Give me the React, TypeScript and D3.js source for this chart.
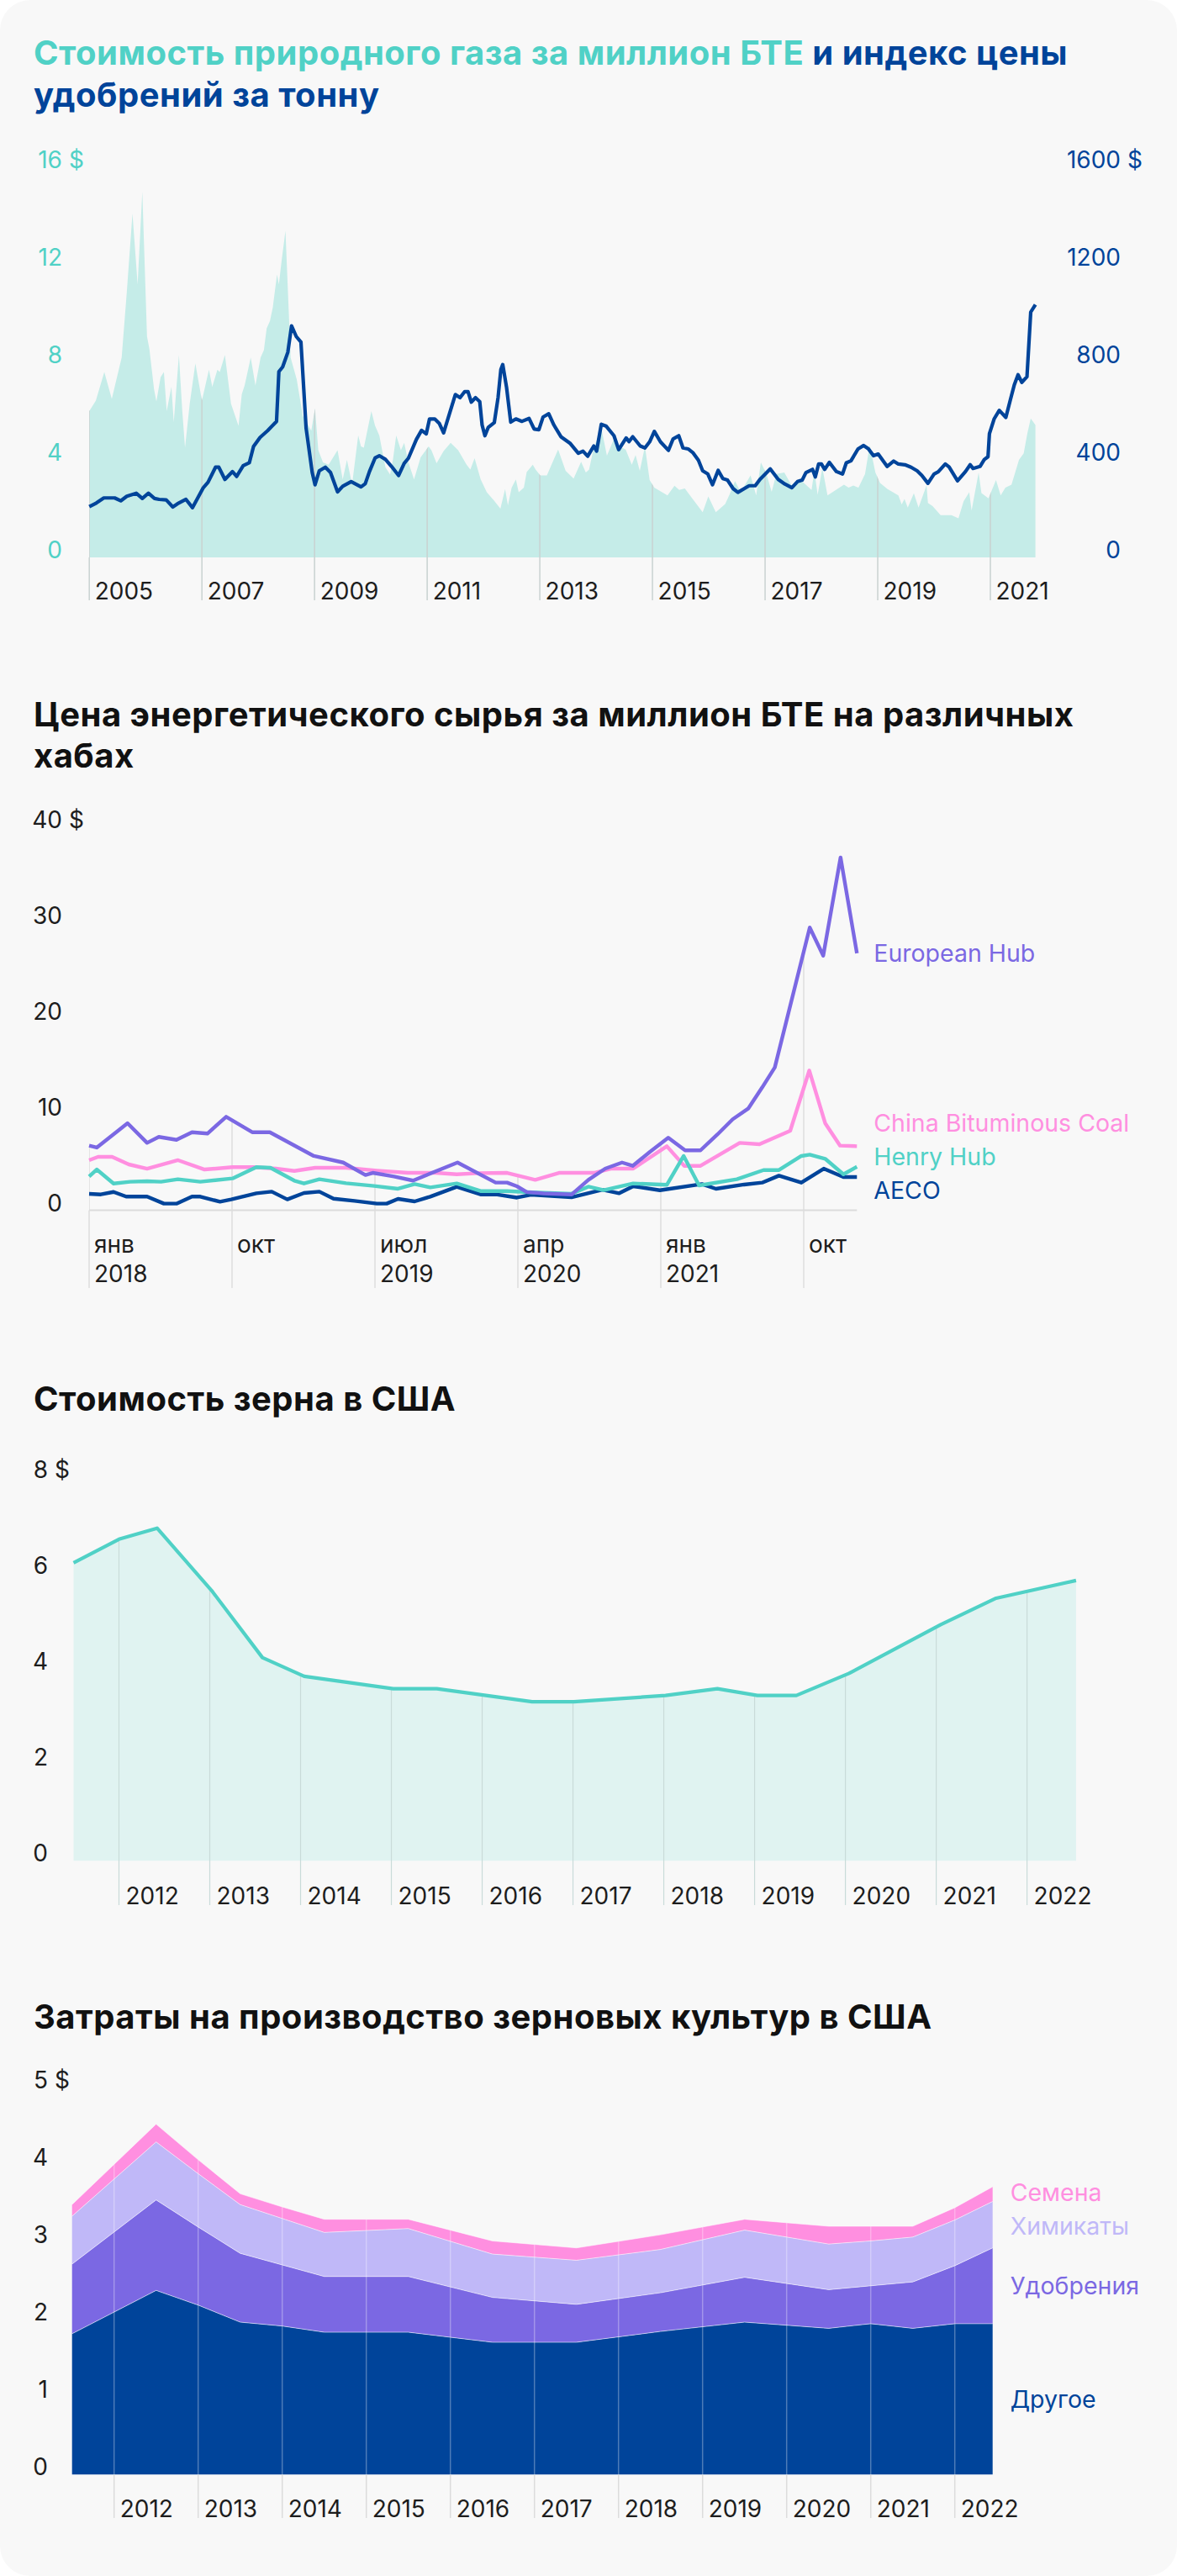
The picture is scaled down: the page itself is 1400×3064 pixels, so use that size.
import React from 'react';
import * as d3 from 'd3';

const FONT = "Inter, Roboto, 'Noto Sans', sans-serif";
const TEAL = '#50d1c6';
const BLUE = '#00449a';
const PURPLE = '#7b68e3';
const PINK = '#ff8fe0';
const LAVENDER = '#c0b8f8';
const TEXT = '#1d1d1d';

// ---------- Chart 1: gas price ($/MMBtu) and fertilizer index ($/t); x = months since Jan 2005
const gasMonth = [0, 1.4, 3.2, 4.8, 6.9, 8.0, 9.2, 10.3, 11.3, 12.3, 12.8, 13.8, 14.3, 15.2, 15.9, 16.5, 17.5, 18.0, 19.1, 19.8, 20.4, 21.4, 22.6, 24.0, 25.5, 26.2, 27.3, 27.8, 28.9, 30.2, 31.8, 32.5, 33.1, 34.4, 35.4, 36.5, 37.2, 37.8, 38.5, 39.1, 40.0, 40.4, 41.0, 41.8, 42.9, 44.2, 45.5, 47.3, 48.1, 48.8, 49.8, 51.0, 52.9, 54.0, 54.9, 56.0, 57.3, 57.9, 58.5, 60.1, 60.9, 61.8, 63.1, 64.1, 64.7, 65.4, 66.4, 67.1, 68.0, 69.2, 70.6, 72.3, 72.9, 74.0, 75.5, 77.0, 78.6, 80.4, 81.2, 82.1, 83.4, 84.7, 86.3, 87.6, 88.6, 89.2, 90.0, 90.9, 91.5, 92.6, 93.2, 94.5, 95.1, 96.1, 97.5, 98.7, 99.9, 101.5, 103.2, 104.8, 105.8, 106.5, 107.5, 109.1, 110.3, 111.8, 112.5, 114.3, 115.6, 116.4, 117.3, 118.4, 119.4, 120.4, 123.2, 124.7, 125.7, 126.9, 128.7, 130.7, 131.9, 133.5, 135.5, 136.4, 137.6, 138.8, 140.9, 142.1, 143.1, 144.3, 145.4, 146.4, 148.1, 149.9, 151.6, 153.9, 154.5, 155.2, 156.2, 157.3, 160.8, 161.8, 162.8, 163.9, 165.3, 166.3, 167.5, 168.5, 170.1, 172.4, 173.1, 173.7, 174.4, 175.7, 176.7, 178.4, 178.7, 179.7, 181.4, 183.7, 185.2, 186.3, 187.5, 188.0, 189.5, 190.1, 191.6, 193.2, 194.2, 195.2, 196.5, 198.1, 199.1, 199.9, 200.6, 201.6];
const gasPrice = [6.0, 6.43, 7.6, 6.5, 8.2, 10.9, 14.1, 11.2, 15.0, 9.06, 8.56, 6.9, 6.4, 7.4, 7.6, 6.0, 7.0, 5.55, 8.3, 6.05, 4.5, 6.3, 7.96, 6.43, 7.7, 7.0, 7.7, 7.6, 8.3, 6.3, 5.4, 6.7, 7.05, 8.2, 7.05, 8.2, 8.5, 9.4, 9.7, 10.25, 11.6, 11.2, 12.2, 13.4, 8.2, 7.3, 5.8, 5.2, 6.1, 4.4, 3.9, 3.8, 4.4, 3.2, 4.0, 3.0, 5.0, 4.55, 4.5, 6.0, 5.4, 5.0, 3.7, 3.4, 4.0, 5.0, 4.4, 4.7, 3.9, 3.2, 4.1, 4.55, 4.4, 3.86, 4.36, 4.7, 4.4, 3.8, 3.6, 4.07, 3.2, 2.67, 2.32, 2.0, 2.8, 2.14, 2.86, 3.2, 2.67, 2.86, 3.5, 3.8, 3.6, 3.36, 3.36, 3.9, 4.42, 3.55, 3.23, 3.92, 3.48, 3.6, 4.5, 5.3, 4.17, 4.86, 4.6, 4.42, 3.8, 4.2, 3.55, 4.55, 3.17, 2.86, 2.54, 2.94, 2.77, 2.83, 2.36, 1.85, 2.5, 1.85, 2.19, 2.57, 3.13, 2.67, 3.36, 2.54, 3.9, 3.42, 2.69, 3.42, 3.48, 2.86, 3.17, 2.77, 3.55, 2.57, 3.67, 2.54, 2.98, 2.86, 2.95, 2.86, 3.42, 4.6, 3.48, 3.05, 2.8, 2.54, 2.17, 2.4, 2.04, 2.63, 2.04, 2.96, 2.23, 2.1, 1.73, 1.73, 1.6, 2.3, 2.67, 1.92, 3.48, 2.64, 2.42, 3.17, 2.54, 2.86, 2.98, 4.0, 4.27, 5.1, 5.7, 5.43];
const fertMonth = [0, 1.5, 3.1, 5.4, 6.7, 8.0, 10.0, 11.3, 12.6, 13.9, 14.9, 16.4, 17.8, 18.8, 20.6, 22.0, 24.3, 25.3, 26.9, 27.6, 28.9, 30.5, 31.4, 32.8, 34.1, 35.0, 36.4, 38.0, 39.9, 40.4, 41.2, 42.3, 43.1, 44.1, 45.1, 46.2, 47.5, 48.1, 49.0, 50.3, 51.4, 52.9, 54.0, 55.8, 57.9, 58.8, 59.7, 60.9, 61.8, 63.1, 64.4, 65.9, 67.1, 68.0, 69.7, 70.8, 71.8, 72.5, 73.6, 74.6, 75.5, 76.8, 78.0, 79.0, 80.0, 80.7, 81.4, 82.3, 83.2, 83.7, 84.3, 85.0, 86.3, 87.1, 87.7, 88.1, 88.9, 89.8, 90.9, 92.2, 93.7, 94.8, 95.8, 96.7, 97.9, 99.0, 100.5, 102.5, 104.2, 105.2, 106.2, 107.5, 108.1, 109.1, 110.1, 111.8, 112.8, 114.4, 115.0, 115.8, 117.4, 118.4, 119.4, 120.4, 121.7, 123.4, 124.4, 125.6, 126.5, 127.6, 128.6, 129.8, 130.7, 131.8, 132.8, 134.0, 135.0, 136.0, 137.2, 138.2, 140.6, 141.9, 142.9, 145.1, 146.8, 148.2, 149.7, 150.9, 151.9, 152.7, 154.1, 154.7, 155.4, 156.0, 156.7, 157.7, 159.2, 160.5, 161.3, 162.3, 163.8, 165.0, 166.0, 167.1, 168.1, 170.0, 171.4, 172.4, 173.8, 175.1, 176.4, 177.4, 178.7, 180.0, 180.9, 182.4, 183.2, 185.0, 186.7, 187.7, 188.3, 189.8, 190.7, 191.5, 191.8, 192.8, 193.9, 195.3, 196.3, 197.1, 197.9, 198.7, 199.8, 200.6, 201.6];
const fertIndex = [208, 223, 244, 244, 232, 251, 263, 242, 263, 242, 238, 236, 207, 220, 238, 204, 286, 308, 370, 370, 320, 352, 332, 376, 388, 455, 492, 520, 558, 762, 781, 841, 950, 906, 883, 530, 348, 298, 355, 370, 348, 269, 292, 311, 289, 302, 352, 408, 417, 402, 373, 336, 386, 407, 484, 521, 507, 568, 568, 549, 511, 593, 668, 655, 680, 680, 637, 655, 639, 543, 499, 533, 553, 655, 771, 791, 699, 555, 568, 558, 570, 526, 524, 576, 589, 543, 495, 467, 427, 436, 415, 457, 436, 546, 539, 499, 442, 490, 475, 495, 457, 449, 474, 517, 474, 439, 486, 499, 449, 445, 430, 398, 355, 342, 298, 357, 323, 317, 282, 267, 294, 294, 320, 363, 320, 301, 286, 311, 317, 348, 361, 330, 383, 383, 361, 390, 352, 342, 388, 396, 445, 459, 446, 417, 424, 373, 395, 383, 380, 370, 355, 336, 304, 342, 351, 383, 371, 314, 352, 380, 365, 373, 401, 413, 507, 568, 603, 574, 649, 708, 749, 718, 741, 1006, 1037];
const chart1Years = [2005, 2007, 2009, 2011, 2013, 2015, 2017, 2019, 2021];
const chart1GasTicks = [0, 4, 8, 12, 16];
const chart1FertTicks = [0, 400, 800, 1200, 1600];

// ---------- Chart 2: energy prices per MMBtu at hubs; x = months since Jan 2018
const euroMonth = [0, 0.48, 2.42, 3.65, 4.39, 5.5, 6.48, 7.45, 8.63, 10.27, 11.38, 14.15, 16.0, 17.4, 17.86, 19.2, 20.4, 23.2, 25.6, 26.32, 26.94, 27.56, 28.62, 30.38, 31.44, 32.5, 33.56, 34.23, 35.32, 36.47, 37.53, 38.5, 39.56, 40.53, 41.5, 42.38, 43.18, 45.38, 46.23, 47.32, 48.35];
const euroPrice = [6.74, 6.54, 9.08, 7.03, 7.65, 7.35, 8.14, 8.0, 9.75, 8.14, 8.14, 5.66, 4.98, 3.67, 3.9, 3.52, 3.09, 4.98, 2.88, 2.88, 2.5, 1.9, 1.75, 1.64, 3.17, 4.34, 4.98, 4.63, 6.1, 7.56, 6.25, 6.25, 7.9, 9.5, 10.6, 12.8, 14.9, 29.5, 26.56, 36.8, 26.8];
const coalMonth = [0, 0.56, 1.45, 2.5, 3.65, 5.6, 7.27, 9.03, 10.36, 11.77, 12.92, 14.24, 16.18, 18.12, 20.06, 21.83, 23.15, 24.5, 26.32, 28.09, 29.59, 31.79, 32.85, 34.26, 36.38, 37.48, 38.5, 40.97, 42.21, 44.15, 45.35, 46.35, 47.29, 48.35];
const coalPrice = [5.22, 5.57, 5.57, 4.78, 4.34, 5.22, 4.25, 4.49, 4.49, 4.34, 4.1, 4.43, 4.43, 4.13, 3.9, 3.9, 3.75, 3.87, 3.9, 3.17, 3.9, 3.9, 4.34, 4.34, 6.68, 4.63, 4.63, 7.03, 6.88, 8.29, 14.58, 9.08, 6.74, 6.68];
const henryMonth = [0, 0.48, 1.54, 2.59, 3.65, 4.53, 5.59, 7.0, 9.03, 10.53, 11.42, 12.92, 13.53, 14.5, 16.18, 17.95, 19.45, 20.5, 21.48, 23.15, 24.65, 26.32, 27.91, 30.38, 31.44, 32.41, 34.26, 36.38, 37.44, 38.41, 40.79, 42.47, 43.44, 44.85, 45.38, 46.35, 47.5, 48.35];
const henryPrice = [3.52, 4.25, 2.79, 2.97, 3.03, 2.97, 3.23, 2.97, 3.32, 4.49, 4.43, 3.09, 2.79, 3.23, 2.82, 2.53, 2.24, 2.73, 2.38, 2.79, 2.0, 2.0, 1.86, 1.72, 2.46, 2.1, 2.79, 2.65, 5.66, 2.59, 3.23, 4.19, 4.19, 5.66, 5.8, 5.37, 3.75, 4.54];
const aecoMonth = [0, 0.74, 1.54, 2.33, 3.65, 4.71, 5.5, 6.48, 7.0, 8.24, 8.95, 10.53, 11.5, 12.48, 13.53, 14.5, 15.39, 16.71, 18.12, 18.74, 19.45, 20.5, 21.48, 23.15, 24.65, 25.62, 26.94, 27.82, 30.38, 32.32, 33.38, 34.26, 35.94, 38.59, 39.47, 41.24, 42.38, 43.44, 44.85, 46.26, 47.5, 48.35];
const aecoPrice = [1.71, 1.65, 1.91, 1.42, 1.42, 0.69, 0.69, 1.42, 1.42, 0.89, 1.13, 1.77, 1.94, 1.13, 1.8, 1.94, 1.21, 0.98, 0.69, 0.69, 1.18, 0.92, 1.42, 2.44, 1.65, 1.65, 1.32, 1.62, 1.35, 2.14, 1.77, 2.5, 2.08, 2.73, 2.24, 2.68, 2.88, 3.61, 2.88, 4.34, 3.46, 3.46];
const hubNames = ['European Hub', 'China Bituminous Coal', 'Henry Hub', 'AECO'];
const hubTickMonths = [0, 9, 18, 27, 36, 45];
const hubTickMonthLabels = ['янв', 'окт', 'июл', 'апр', 'янв', 'окт'];
const hubTickYearLabels = ['2018', '', '2019', '2020', '2021', ''];
const hubYTicks = [0, 10, 20, 30, 40];

// ---------- Chart 3: US grain price ($); x = decimal year
const grainYear = [2011.5, 2012.0, 2012.42, 2013.02, 2013.58, 2014.04, 2015.02, 2015.5, 2016.55, 2017.01, 2018.02, 2018.59, 2019.03, 2019.46, 2020.04, 2021.05, 2021.66, 2022.54];
const grainPrice = [6.22, 6.71, 6.94, 5.64, 4.24, 3.85, 3.59, 3.59, 3.32, 3.32, 3.45, 3.59, 3.45, 3.45, 3.91, 4.93, 5.48, 5.85];
const grainYTicks = [0, 2, 4, 6, 8];
const yearTicks = [2012, 2013, 2014, 2015, 2016, 2017, 2018, 2019, 2020, 2021, 2022];

// ---------- Chart 4: US grain production costs ($), stacked
const costYear = [2011.5, 2012.5, 2013.0, 2013.5, 2014.0, 2014.5, 2015.5, 2016.5, 2017.5, 2018.5, 2019.5, 2020.5, 2021.0, 2021.5, 2022.0, 2022.45];
const costOther = [1.82, 2.38, 2.19, 1.97, 1.92, 1.84, 1.84, 1.71, 1.71, 1.85, 1.97, 1.89, 1.95, 1.89, 1.95, 1.95];
const costFertilizer = [0.90, 1.17, 1.01, 0.89, 0.79, 0.72, 0.72, 0.58, 0.49, 0.50, 0.58, 0.50, 0.49, 0.60, 0.75, 0.98];
const costChemicals = [0.62, 0.75, 0.69, 0.63, 0.60, 0.57, 0.62, 0.56, 0.57, 0.56, 0.61, 0.59, 0.58, 0.58, 0.59, 0.60];
const costSeeds = [0.15, 0.23, 0.18, 0.14, 0.15, 0.17, 0.12, 0.17, 0.16, 0.19, 0.14, 0.23, 0.19, 0.14, 0.16, 0.19];
const costKeys = ['Другое', 'Удобрения', 'Химикаты', 'Семена'];
const costYTicks = [0, 1, 2, 3, 4, 5];

type P = [number, number];
const zip = (xs: number[], ys: number[]): P[] => xs.map((x, i) => [x, ys[i]]);

function spreadLabels(items: { key: string; y: number }[], gap: number, maxY: number) {
  const arr = items.map(d => ({ ...d, y0: d.y })).sort((a, b) => a.y - b.y);
  let clusters = arr.map(d => ({ items: [d], c: d.y }));
  let changed = true;
  while (changed) {
    changed = false;
    for (let i = 0; i < clusters.length - 1; i++) {
      const a = clusters[i], b = clusters[i + 1];
      const aBottom = a.c + (a.items.length - 1) * gap / 2;
      const bTop = b.c - (b.items.length - 1) * gap / 2;
      if (bTop - aBottom < gap) {
        const items2 = [...a.items, ...b.items];
        const mean = d3.mean(items2, d => d.y0) as number;
        clusters.splice(i, 2, { items: items2, c: mean });
        changed = true;
        break;
      }
    }
  }
  const out: Record<string, number> = {};
  clusters.forEach(cl => {
    const n = cl.items.length;
    let top = cl.c - (n - 1) * gap / 2;
    const bottom = top + (n - 1) * gap;
    if (bottom > maxY) top -= bottom - maxY;
    cl.items.forEach((d, i) => { out[d.key] = top + i * gap; });
  });
  return out;
}

function YLabels({ ticks, scale, right, color, suffixAt, fs = 28 }: any) {
  return (
    <g fontFamily={FONT} fontSize={fs} fill={color}>
      {ticks.map((t: number) => (
        <g key={t}>
          <text x={right} y={scale(t) + 1} textAnchor="end">{t}</text>
          {t === suffixAt && <text x={right + 8} y={scale(t) + 1}>$</text>}
        </g>
      ))}
    </g>
  );
}

const TITLE_FS = 40;
const TITLE_LS = 0.5;

export default function App() {
  const W = 1400, H = 3064;

  // ---- chart 1
  const x1 = d3.scaleLinear().domain([0, 192]).range([106.2, 1178]);
  const y1 = d3.scaleLinear().domain([0, 16]).range([663, 199]);
  const y1r = d3.scaleLinear().domain([0, 1600]).range([663, 199]);
  const gasArea = d3.area<P>().x(d => x1(d[0])).y0(y1(0)).y1(d => y1(d[1]))(zip(gasMonth, gasPrice)) as string;
  const fertLine = d3.line<P>().x(d => x1(d[0])).y(d => y1r(d[1]))(zip(fertMonth, fertIndex)) as string;

  // ---- chart 2
  const x2 = d3.scaleLinear().domain([0, 45]).range([106, 956]);
  const y2 = d3.scaleLinear().domain([0, 40]).range([1439.5, 983.5]);
  const hubSeries = [
    { name: hubNames[0], pts: zip(euroMonth, euroPrice), color: PURPLE },
    { name: hubNames[1], pts: zip(coalMonth, coalPrice), color: PINK },
    { name: hubNames[2], pts: zip(henryMonth, henryPrice), color: TEAL },
    { name: hubNames[3], pts: zip(aecoMonth, aecoPrice), color: BLUE },
  ];
  const line2 = d3.line<P>().x(d => x2(d[0])).y(d => y2(d[1]));
  const area2 = d3.area<P>().x(d => x2(d[0])).y0(y2(0)).y1(d => y2(d[1]));
  const hubLabelY = spreadLabels(
    hubSeries.map(s => ({ key: s.name, y: y2(s.pts[s.pts.length - 1][1]) })), 40, y2(0) - 24);
  const lastX2 = x2(d3.max(hubSeries, s => s.pts[s.pts.length - 1][0]) as number);

  // ---- chart 3
  const x3 = d3.scaleLinear().domain([2012, 2022]).range([141.5, 1221.6]);
  const y3 = d3.scaleLinear().domain([0, 8]).range([2213.3, 1757.3]);
  const grainPts = zip(grainYear, grainPrice);
  const grainArea = d3.area<P>().x(d => x3(d[0])).y0(y3(0)).y1(d => y3(d[1]))(grainPts) as string;
  const grainLine = d3.line<P>().x(d => x3(d[0])).y(d => y3(d[1]))(grainPts) as string;

  // ---- chart 4
  const x4 = d3.scaleLinear().domain([2012, 2022]).range([135.7, 1135.7]);
  const y4 = d3.scaleLinear().domain([0, 5]).range([2943.3, 2483.3]);
  const costRows = costYear.map((yr, i) => ({
    year: yr,
    'Другое': costOther[i],
    'Удобрения': costFertilizer[i],
    'Химикаты': costChemicals[i],
    'Семена': costSeeds[i],
  }));
  const stacked = d3.stack<any>().keys(costKeys)(costRows);
  const area4 = d3.area<any>().x(d => x4(d.data.year)).y0(d => y4(d[0])).y1(d => y4(d[1]));
  const line4 = d3.line<any>().x(d => x4(d.data.year)).y(d => y4(d[1]));
  const costColors: Record<string, string> = { 'Другое': BLUE, 'Удобрения': PURPLE, 'Химикаты': LAVENDER, 'Семена': PINK };
  const lastIdx = costRows.length - 1;
  const costLabelY = spreadLabels(
    stacked.map(s => ({ key: s.key, y: y4((s[lastIdx][0] + s[lastIdx][1]) / 2) })), 40, 3000);
  const totalArea = d3.area<any>().x(d => x4(d.data.year)).y0(y4(0)).y1(d => y4(d[1]))(stacked[stacked.length - 1]) as string;
  const lastX4 = x4(costYear[lastIdx]);

  const titleProps = { fontSize: TITLE_FS, fontWeight: 700, letterSpacing: TITLE_LS };

  return (
    <div style={{ position: 'absolute', left: 0, top: 0, width: W, height: H }}>
      <svg width={W} height={H} style={{ display: 'block' }} fontFamily={FONT}>
        <defs>
          <clipPath id="clip1">
            <path d={gasArea} />
            <rect x={0} y={y1(0)} width={W} height={60} />
          </clipPath>
          <clipPath id="clip2">
            {hubSeries.map(s => <path key={s.name} d={area2(s.pts) as string} />)}
            <rect x={0} y={y2(0)} width={W} height={100} />
          </clipPath>
          <clipPath id="clip3">
            <path d={grainArea} />
            <rect x={0} y={y3(0)} width={W} height={60} />
          </clipPath>
          <clipPath id="clip4a">
            <path d={totalArea} />
          </clipPath>
          <clipPath id="clip4b">
            <rect x={0} y={y4(0)} width={W} height={60} />
          </clipPath>
        </defs>
        <rect x={0} y={0} width={W} height={H} rx={36} ry={36} fill="#f8f8f8" />

        {/* ================= Chart 1 ================= */}
        <text x={40} y={77} {...titleProps}>
          <tspan fill={TEAL}>Стоимость природного газа за миллион БТЕ</tspan>
          <tspan fill={BLUE}>{' и индекс цены'}</tspan>
        </text>
        <text x={40} y={127} {...titleProps} fill={BLUE}>удобрений за тонну</text>

        <path d={gasArea} fill="#c5ece8" />
        <g clipPath="url(#clip1)">
          {chart1Years.map(yr => (
            <line key={yr} x1={x1((yr - 2005) * 12)} x2={x1((yr - 2005) * 12)} y1={y1(16)} y2={714}
              stroke="#c9d2d1" strokeWidth={1.5} />
          ))}
        </g>
        <path d={fertLine} fill="none" stroke={BLUE} strokeWidth={4.2} strokeLinejoin="round" />
        <YLabels ticks={chart1GasTicks} scale={y1} right={74} color={TEAL} suffixAt={16} />
        <YLabels ticks={chart1FertTicks} scale={y1r} right={1333} color={BLUE} suffixAt={1600} />
        <g fontSize={28} fill={TEXT}>
          {chart1Years.map(yr => (
            <text key={yr} x={x1((yr - 2005) * 12) + 6.5} y={713}>{yr}</text>
          ))}
        </g>

        {/* ================= Chart 2 ================= */}
        <text x={40} y={864} {...titleProps} fill="#111">Цена энергетического сырья за миллион БТЕ на различных</text>
        <text x={40} y={913} {...titleProps} fill="#111">хабах</text>
        <g clipPath="url(#clip2)">
          {hubTickMonths.map(m => (
            <line key={m} x1={x2(m)} x2={x2(m)} y1={y2(40)} y2={1532} stroke="#dedede" strokeWidth={1.5} />
          ))}
        </g>
        <line x1={x2(0)} x2={lastX2} y1={y2(0)} y2={y2(0)} stroke="#dcdcdc" strokeWidth={2} />
        {[3, 1, 2, 0].map(i => (
          <path key={hubSeries[i].name} d={line2(hubSeries[i].pts) as string} fill="none"
            stroke={hubSeries[i].color} strokeWidth={4.4} strokeLinejoin="round" />
        ))}
        <YLabels ticks={hubYTicks} scale={y2} right={74} color={TEXT} suffixAt={40} />
        <g fontSize={28} fill={TEXT}>
          {hubTickMonths.map((m, i) => (
            <g key={m}>
              <text x={x2(m) + 6} y={1490}>{hubTickMonthLabels[i]}</text>
              {hubTickYearLabels[i] && <text x={x2(m) + 6} y={1525}>{hubTickYearLabels[i]}</text>}
            </g>
          ))}
        </g>
        <g fontSize={28.5}>
          {hubSeries.map(s => (
            <text key={s.name} x={lastX2 + 20} y={hubLabelY[s.name] + 10} fill={s.color}>{s.name}</text>
          ))}
        </g>

        {/* ================= Chart 3 ================= */}
        <text x={40} y={1678} {...titleProps} fill="#111">Стоимость зерна в США</text>
        <path d={grainArea} fill="#e0f3f1" />
        <g clipPath="url(#clip3)">
          {yearTicks.map(yr => (
            <line key={yr} x1={x3(yr)} x2={x3(yr)} y1={y3(8)} y2={2266} stroke="#c9dbd9" strokeWidth={1.2} />
          ))}
        </g>
        <path d={grainLine} fill="none" stroke={TEAL} strokeWidth={4.2} strokeLinejoin="round" />
        <YLabels ticks={grainYTicks} scale={y3} right={57} color={TEXT} suffixAt={8} />
        <g fontSize={28} fill={TEXT}>
          {yearTicks.map(yr => (
            <text key={yr} x={x3(yr) + 8} y={2265}>{yr}</text>
          ))}
        </g>

        {/* ================= Chart 4 ================= */}
        <text x={40} y={2413} {...titleProps} fill="#111">Затраты на производство зерновых культур в США</text>
        {stacked.map(s => (
          <path key={s.key} d={area4(s) as string} fill={costColors[s.key]} />
        ))}
        {stacked.map(s => (
          <path key={s.key + 'l'} d={line4(s) as string} fill="none" stroke="rgba(255,255,255,0.55)" strokeWidth={1} />
        ))}
        <g clipPath="url(#clip4a)">
          {yearTicks.map(yr => (
            <line key={yr} x1={x4(yr)} x2={x4(yr)} y1={y4(5)} y2={y4(0)} stroke="rgba(255,255,255,0.3)" strokeWidth={1.5} />
          ))}
        </g>
        <g clipPath="url(#clip4b)">
          {yearTicks.map(yr => (
            <line key={yr} x1={x4(yr)} x2={x4(yr)} y1={y4(0)} y2={2995} stroke="#dcdcdc" strokeWidth={1.5} />
          ))}
        </g>
        <YLabels ticks={costYTicks} scale={y4} right={57} color={TEXT} suffixAt={5} />
        <g fontSize={28} fill={TEXT}>
          {yearTicks.map(yr => (
            <text key={yr} x={x4(yr) + 7} y={2994}>{yr}</text>
          ))}
        </g>
        <g fontSize={28.5}>
          {stacked.map(s => (
            <text key={s.key} x={lastX4 + 21} y={costLabelY[s.key] + 10} fill={costColors[s.key]}>{s.key}</text>
          ))}
        </g>
      </svg>
    </div>
  );
}
